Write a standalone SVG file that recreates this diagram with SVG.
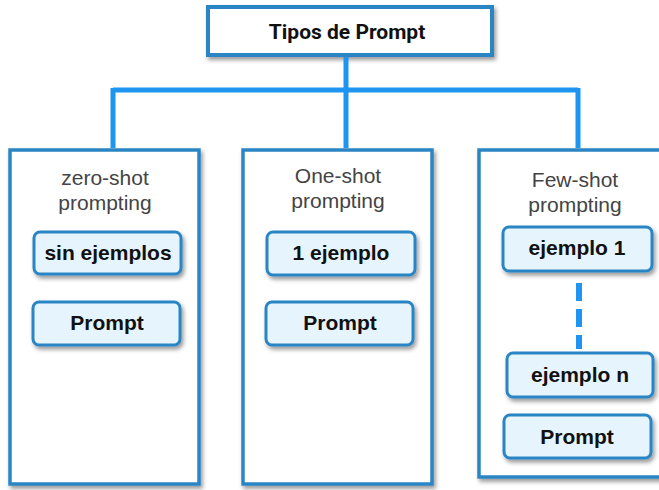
<svg xmlns="http://www.w3.org/2000/svg" width="659" height="490" viewBox="0 0 659 490">
<defs>
<filter id="sh" x="-10%" y="-10%" width="130%" height="130%">
<feDropShadow dx="2" dy="3" stdDeviation="2" flood-color="#000" flood-opacity="0.4"/>
</filter>
</defs>
<style>
.col{fill:#fff;stroke:#2B85C4;stroke-width:3.5;filter:url(#sh)}
.top{fill:#fff;stroke:#2B85C4;stroke-width:4;filter:url(#sh)}
.item{fill:#E6F4FD;stroke:#2B85C4;stroke-width:3;filter:url(#sh)}
.conn{fill:none;stroke:#1E95F0;stroke-width:5}
.dash{stroke:#1E95F0;stroke-width:6;stroke-dasharray:18 8}
.cat{font-family:"Liberation Sans",Arial,sans-serif;font-size:21px;fill:#444;text-anchor:middle}
.lbl{font-family:"Liberation Sans",Arial,sans-serif;font-weight:bold;font-size:21px;fill:#111;text-anchor:middle}
.ttl{font-family:Roboto,"Liberation Sans",sans-serif;font-weight:bold;font-size:21px;fill:#111;text-anchor:middle}
</style>
<g id="root">
<rect class="top" x="208" y="7" width="284" height="48"/>
<text class="ttl" x="347" y="39">Tipos de Prompt</text>
</g>
<g id="zero-shot">
<rect class="col" x="10" y="150" width="189" height="334"/>
<text class="cat" x="105" y="185">zero-shot</text>
<text class="cat" x="105" y="210">prompting</text>
</g>
<g id="one-shot">
<rect class="col" x="243" y="150" width="189" height="334"/>
<text class="cat" x="338" y="183">One-shot</text>
<text class="cat" x="338" y="208">prompting</text>
</g>
<g id="few-shot">
<rect class="col" x="479" y="150" width="200" height="327"/>
<text class="cat" x="575" y="187">Few-shot</text>
<text class="cat" x="575" y="212">prompting</text>
</g>
<g id="connectors">
<path class="conn" d="M346 57 V90 M113 90 H578 M113 88 V148 M346 88 V148 M578 88 V148"/>
<line class="dash" x1="579" y1="283" x2="579" y2="349"/>
</g>
<g id="sin-ejemplos">
<rect class="item" x="34" y="232" width="147" height="42" rx="6"/>
<text class="lbl" x="108" y="260">sin ejemplos</text>
</g>
<g id="prompt-zero">
<rect class="item" x="33" y="302" width="147" height="43" rx="6"/>
<text class="lbl" x="107" y="330">Prompt</text>
</g>
<g id="un-ejemplo">
<rect class="item" x="267" y="232" width="148" height="43" rx="6"/>
<text class="lbl" x="341" y="260">1 ejemplo</text>
</g>
<g id="prompt-one">
<rect class="item" x="266" y="302" width="147" height="43" rx="6"/>
<text class="lbl" x="340" y="330">Prompt</text>
</g>
<g id="ejemplo-1">
<rect class="item" x="503" y="227" width="149" height="44" rx="6"/>
<text class="lbl" x="577" y="255">ejemplo 1</text>
</g>
<g id="ejemplo-n">
<rect class="item" x="507" y="353" width="146" height="44" rx="6"/>
<text class="lbl" x="580" y="382">ejemplo n</text>
</g>
<g id="prompt-few">
<rect class="item" x="504" y="415" width="147" height="43" rx="6"/>
<text class="lbl" x="577" y="444">Prompt</text>
</g>
</svg>
